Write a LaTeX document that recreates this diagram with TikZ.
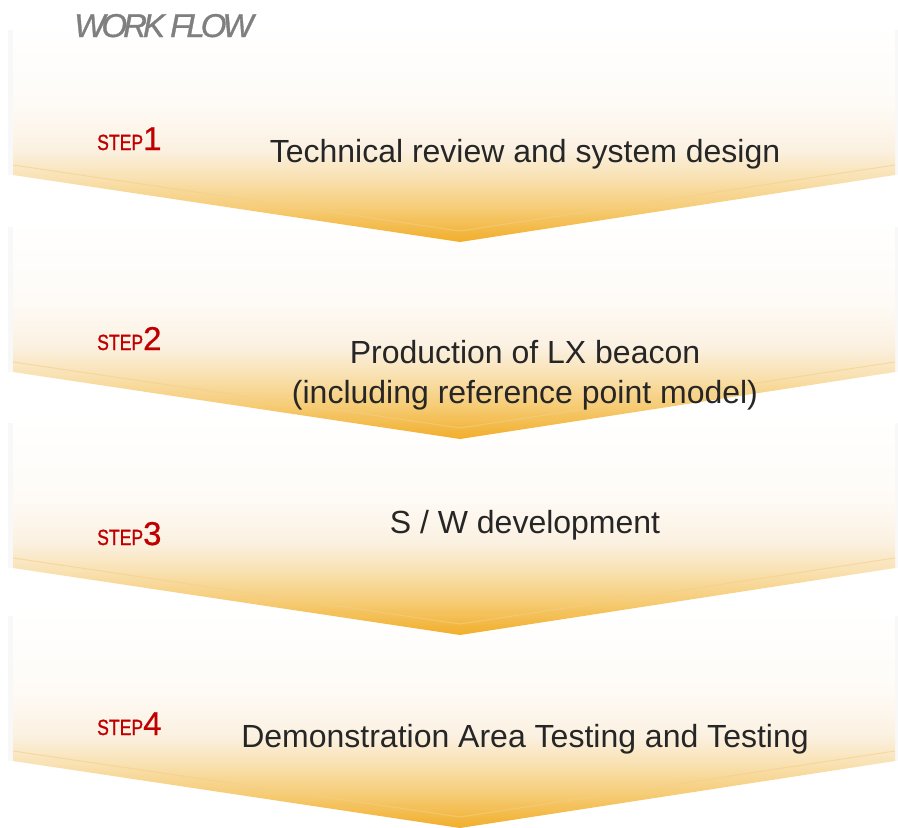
\documentclass[tikz,border=0pt]{standalone}
\usepackage{fontspec}
\setmainfont{Liberation Sans}
\definecolor{oA}{HTML}{F1AE2A}
\definecolor{oB}{HTML}{F6CD78}
\definecolor{oC}{HTML}{F9E2B4}
\definecolor{oD}{HTML}{FBF1E1}
\definecolor{oE}{HTML}{FEFBF7}
\definecolor{steptxt}{HTML}{C00000}
\definecolor{maintxt}{HTML}{262626}
\definecolor{titletxt}{HTML}{7F7F7F}
\definecolor{ridge}{HTML}{F3CF8A}
\pgfdeclareverticalshading{chevshade}{100bp}{color(0bp)=(oA); color(25bp)=(oA); color(33bp)=(oB); color(40bp)=(oC); color(46bp)=(oD); color(57bp)=(oE); color(75bp)=(white); color(100bp)=(white)}
\newcommand\chevron[1]{%
  \fill[gray,opacity=0.05] (8,#1-145) rectangle (13,#1);
  \fill[gray,opacity=0.05] (895,#1-145) rectangle (900,#1);
  \shade[shading=chevshade] (13,#1-152) -- (895,#1-152) -- (895,#1) -- (460,#1+67) -- (13,#1) -- cycle;
  \draw[ridge,opacity=0.6,line width=1pt] (13,#1-10) -- (460,#1+56) -- (895,#1-10);
}
\newcommand\steplabel[1]{{\fontsize{22}{22}\selectfont\addfontfeature{FakeBold=1.2}\scalebox{0.8}[1]{STEP}}{\fontsize{33}{33}\selectfont\addfontfeature{FakeBold=0.6}#1}}
\begin{document}
\begin{tikzpicture}[x=1pt,y=-1pt,
  steptag/.style={text=steptxt,inner sep=0pt,anchor=base west},
  maintext/.style={text=maintxt,inner sep=0pt,anchor=base,font=\fontsize{32}{38}\selectfont}]
\useasboundingbox[fill=white] (0,0) rectangle (898,828);
\chevron{761}
\chevron{568}
\chevron{372}
\chevron{175}
\node[text=titletxt,inner sep=0pt,anchor=base west] (title) at (74,37)
  {\fontsize{33}{33}\selectfont\itshape\addfontfeature{LetterSpace=-12,FakeBold=1}WORK FLOW};
\node[steptag] (s1) at (97,150) {\steplabel{1}};
\node[steptag] (s2) at (97,350) {\steplabel{2}};
\node[steptag] (s3) at (97,545) {\steplabel{3}};
\node[steptag] (s4) at (97,735) {\steplabel{4}};
\node[maintext] (t1) at (525,162) {Technical review and system design};
\node[maintext] (t2a) at (525,363) {Production of LX beacon};
\node[maintext] (t2b) at (525,403) {(including reference point model)};
\node[maintext] (t3) at (525,533) {S / W development};
\node[maintext] (t4) at (525,747) {Demonstration Area Testing and Testing};
\end{tikzpicture}
\end{document}
